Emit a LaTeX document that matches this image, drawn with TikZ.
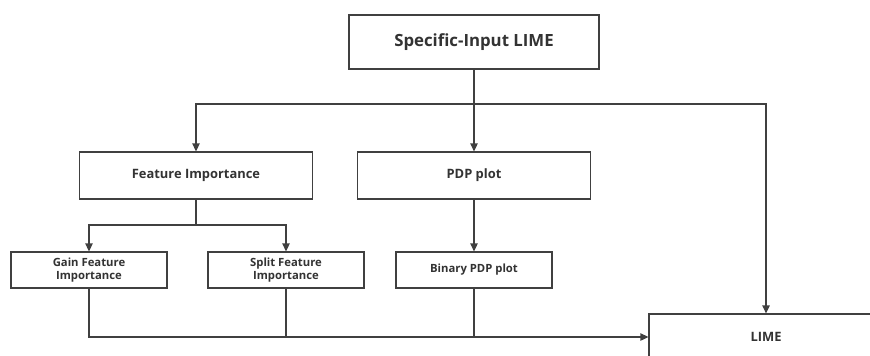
\documentclass[tikz,border=0pt]{standalone}
\usepackage{fontspec}
\setmainfont{Open Sans}
\usetikzlibrary{arrows.meta}
\definecolor{ink}{HTML}{333333}
\definecolor{edge}{HTML}{404040}
\begin{document}
\begin{tikzpicture}[x=1pt,y=-1pt,
  box/.style={draw=edge,line width=1.3pt,fill=white,text=ink,font=\bfseries,
    inner sep=0pt,align=center,minimum width=#1},
  bigbox/.style={box=250pt,minimum height=54pt,font=\bfseries\fontsize{16.8}{19}\selectfont},
  midbox/.style={box=233pt,minimum height=47pt,font=\bfseries\fontsize{12.9}{15}\selectfont},
  smallbox/.style={box=156pt,minimum height=36pt,font=\bfseries\fontsize{11.3}{13.2}\selectfont},
  wire/.style={draw=edge,line width=1.3pt},
  arr/.style={wire,-{Triangle[length=8pt,width=7.5pt]}}]
\path[use as bounding box,clip] (0,0) rectangle (870,356);

% boxes
\node[bigbox] (top) at (474,42) {Specific-Input LIME};
\node[midbox] (fi) at (196,175.5) {Feature Importance};
\node[midbox] (pdp) at (474,175.5) {PDP plot};
\node[smallbox] (gain) at (89,270) {Gain Feature\\Importance};
\node[smallbox] (split) at (286,270) {Split Feature\\Importance};
\node[smallbox] (bin) at (474,270) {Binary PDP plot};
\node[box=234pt,minimum height=46pt,font=\bfseries\fontsize{12.9}{15}\selectfont] (lime) at (766,337) {LIME};

% junctions
\coordinate (bus) at (474,104);
\coordinate (fj) at (196,225);

% top level fan-out
\draw[arr] (top.south) -- (pdp.north);
\draw[arr] (bus) -| (fi.north);
\draw[arr] (bus) -| (lime.north);

% feature importance split
\draw[wire] (fi.south) -- (fj);
\draw[arr] (fj) -| (gain.north);
\draw[arr] (fj) -| (split.north);

% pdp branch
\draw[arr] (pdp.south) -- (bin.north);

% collection into LIME
\draw[arr] (gain.south) |- (lime.west);
\draw[wire] (split.south) -- (split.south |- lime.west);
\draw[wire] (bin.south) -- (bin.south |- lime.west);
\end{tikzpicture}
\end{document}
